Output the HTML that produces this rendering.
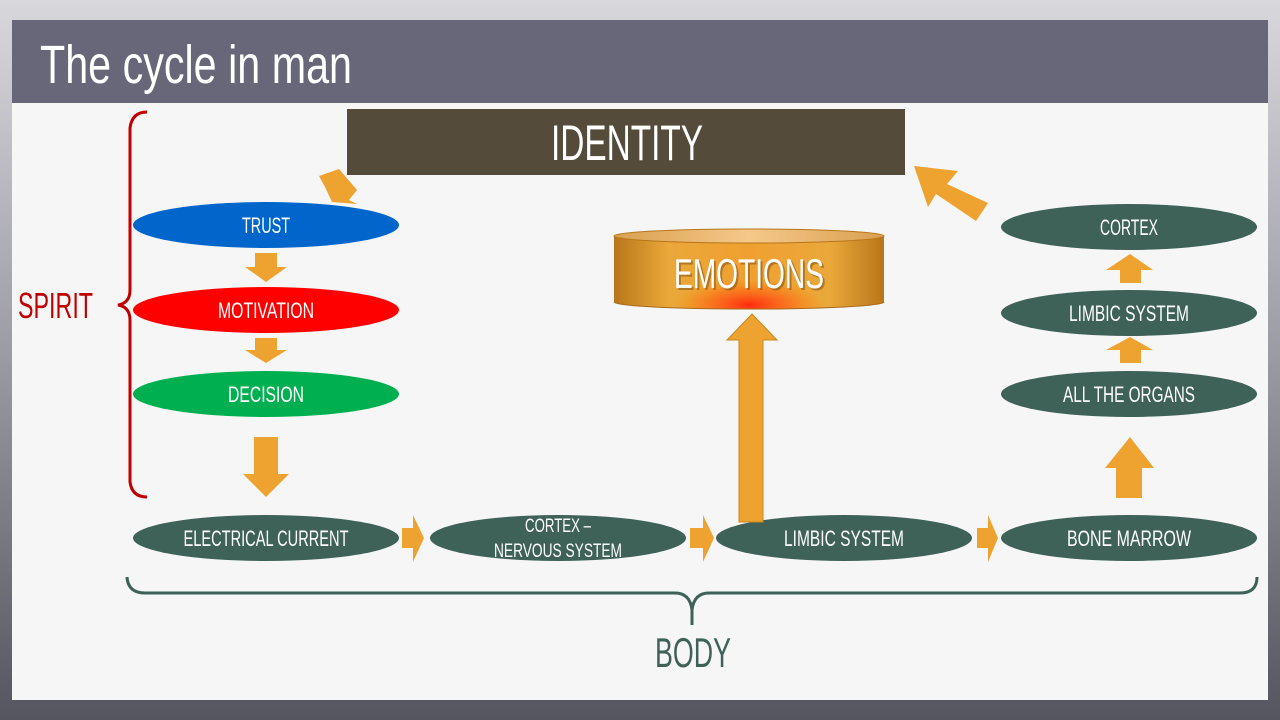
<!DOCTYPE html>
<html><head><meta charset="utf-8"><style>
html,body{margin:0;padding:0;width:1280px;height:720px;overflow:hidden;background:#8a8a92}
svg{display:block}
text{font-family:"Liberation Sans Narrow","Liberation Sans",sans-serif}
</style></head><body>
<svg width="1280" height="720" viewBox="0 0 1280 720" xmlns="http://www.w3.org/2000/svg">
<defs>
<linearGradient id="bg" x1="0" y1="0" x2="0" y2="1">
<stop offset="0" stop-color="#d8d8dc"/><stop offset="0.5" stop-color="#9a9aa2"/><stop offset="1" stop-color="#55555f"/>
</linearGradient>
<linearGradient id="cyl" x1="0" y1="0" x2="1" y2="0">
<stop offset="0" stop-color="#b8761a"/><stop offset="0.2" stop-color="#eaa83a"/><stop offset="0.5" stop-color="#f0a030"/><stop offset="0.8" stop-color="#eaa83a"/><stop offset="1" stop-color="#b8761a"/>
</linearGradient>
<radialGradient id="red" cx="0.5" cy="0.5" r="0.5">
<stop offset="0" stop-color="#ff2a10" stop-opacity="1"/><stop offset="0.6" stop-color="#ff5a10" stop-opacity="0.5"/><stop offset="1" stop-color="#ff8000" stop-opacity="0"/>
</radialGradient>
<linearGradient id="cyltop" x1="0" y1="0" x2="1" y2="0">
<stop offset="0" stop-color="#d9a050"/><stop offset="0.5" stop-color="#f5c88a"/><stop offset="1" stop-color="#d9a050"/>
</linearGradient>
<clipPath id="cc"><path d="M614,236 L884,236 L884,302 A135,7 0 0 1 614,302 Z"/></clipPath>
</defs>
<rect width="1280" height="720" fill="url(#bg)"/>
<rect x="12" y="20" width="1256" height="680" fill="#f6f6f6"/>
<rect x="12" y="20" width="1256" height="83" fill="#676779"/>
<text x="40" y="83" font-size="54" fill="#fff" textLength="312" lengthAdjust="spacingAndGlyphs">The cycle in man</text>

<rect x="347" y="109" width="558" height="66" fill="#544b3a"/>
<text x="627" y="160" font-size="50" fill="#fff" text-anchor="middle" textLength="152" lengthAdjust="spacingAndGlyphs">IDENTITY</text>

<polygon points="319,176 339,169 357,190 349,200 357,204 332,202 325,187" fill="#eea330"/>

<path d="M147,112 Q132,112 130,128 L130,290 Q130,303 118,305 Q130,307 130,320 L130,482 Q132,497 147,497" fill="none" stroke="#c00000" stroke-width="3"/>
<text x="18" y="318" font-size="36" fill="#c00000" textLength="75" lengthAdjust="spacingAndGlyphs">SPIRIT</text>

<ellipse cx="266" cy="225" rx="133" ry="23" fill="#0066cc"/>
<text x="266" y="233" font-size="22" fill="#fff" text-anchor="middle" textLength="48" lengthAdjust="spacingAndGlyphs">TRUST</text>
<ellipse cx="266" cy="310" rx="133" ry="23" fill="#ff0000"/>
<text x="266" y="318" font-size="22" fill="#fff" text-anchor="middle" textLength="96" lengthAdjust="spacingAndGlyphs">MOTIVATION</text>
<ellipse cx="266" cy="394" rx="133" ry="23" fill="#00b050"/>
<text x="266" y="402" font-size="22" fill="#fff" text-anchor="middle" textLength="76" lengthAdjust="spacingAndGlyphs">DECISION</text>

<polygon points="255,253 277,253 277,267 287,267 266,282 245,267 255,267" fill="#eea330"/>
<polygon points="255,338 277,338 277,350 287,350 266,363 245,350 255,350" fill="#eea330"/>
<polygon points="254,437 278,437 278,474 289,474 266,497 243,474 254,474" fill="#eea330"/>

<ellipse cx="266" cy="538" rx="133" ry="23" fill="#3e6158"/>
<text x="266" y="546" font-size="22" fill="#fff" text-anchor="middle" textLength="165" lengthAdjust="spacingAndGlyphs">ELECTRICAL CURRENT</text>
<ellipse cx="558" cy="538" rx="128" ry="23" fill="#3e6158"/>
<text x="558" y="532" font-size="19" fill="#fff" text-anchor="middle" textLength="66" lengthAdjust="spacingAndGlyphs">CORTEX –</text>
<text x="558" y="557" font-size="19" fill="#fff" text-anchor="middle" textLength="128" lengthAdjust="spacingAndGlyphs">NERVOUS  SYSTEM</text>
<ellipse cx="844" cy="538" rx="128" ry="23" fill="#3e6158"/>
<text x="844" y="546" font-size="22" fill="#fff" text-anchor="middle" textLength="120" lengthAdjust="spacingAndGlyphs">LIMBIC SYSTEM</text>
<ellipse cx="1129" cy="538" rx="128" ry="23" fill="#3e6158"/>
<text x="1129" y="546" font-size="22" fill="#fff" text-anchor="middle" textLength="124" lengthAdjust="spacingAndGlyphs">BONE MARROW</text>

<polygon points="402,528 413,528 413,515 424,538 413,562 413,548 402,548" fill="#eea330"/>
<polygon points="690,528 703,528 703,515 714,538 703,562 703,548 690,548" fill="#eea330"/>
<polygon points="977,528 988,528 988,515 998,538 988,562 988,548 977,548" fill="#eea330"/>

<polygon points="739,522 763,522 763,340 777,340 752,314 727,340 739,340" fill="#eea330" stroke="#c8861e" stroke-width="1"/>

<g clip-path="url(#cc)">
<rect x="614" y="236" width="270" height="74" fill="url(#cyl)"/>
<ellipse cx="749" cy="305" rx="75" ry="26" fill="url(#red)"/>
</g>
<path d="M614,302 A135,7 0 0 0 884,302" fill="none" stroke="#a86a18" stroke-width="1"/>
<ellipse cx="749" cy="236" rx="135" ry="7" fill="url(#cyltop)" stroke="#b8761a" stroke-width="1"/>
<text x="751" y="290" font-size="42" fill="#7a4a10" opacity="0.5" text-anchor="middle" textLength="150" lengthAdjust="spacingAndGlyphs">EMOTIONS</text>
<text x="749" y="288" font-size="42" fill="#fff" text-anchor="middle" textLength="150" lengthAdjust="spacingAndGlyphs">EMOTIONS</text>

<ellipse cx="1129" cy="227" rx="128" ry="23" fill="#3e6158"/>
<text x="1129" y="235" font-size="22" fill="#fff" text-anchor="middle" textLength="58" lengthAdjust="spacingAndGlyphs">CORTEX</text>
<ellipse cx="1129" cy="313" rx="128" ry="23" fill="#3e6158"/>
<text x="1129" y="321" font-size="22" fill="#fff" text-anchor="middle" textLength="120" lengthAdjust="spacingAndGlyphs">LIMBIC SYSTEM</text>
<ellipse cx="1129" cy="394" rx="128" ry="23" fill="#3e6158"/>
<text x="1129" y="402" font-size="22" fill="#fff" text-anchor="middle" textLength="132" lengthAdjust="spacingAndGlyphs">ALL THE ORGANS</text>
<polygon points="1120,283 1141,283 1141,270 1153,270 1130,254 1106,270 1120,270" fill="#eea330"/>
<polygon points="1120,363 1141,363 1141,350 1153,350 1130,337 1106,350 1120,350" fill="#eea330"/>
<polygon points="1116,498 1142,498 1142,468 1154,468 1130,437 1105,468 1116,468" fill="#eea330"/>

<polygon points="988,203 976,221 936,194 928,207 914,166 958,171 947,184" fill="#eea330"/>

<path d="M127,577 Q128,593 145,593 L675,593 Q690,593 692,610 L692,625 M692,610 Q694,593 709,593 L1240,593 Q1257,593 1257,577" fill="none" stroke="#3e6158" stroke-width="3"/>
<text x="693" y="667" font-size="42" fill="#3e6158" text-anchor="middle" textLength="76" lengthAdjust="spacingAndGlyphs">BODY</text>
</svg>
</body></html>
